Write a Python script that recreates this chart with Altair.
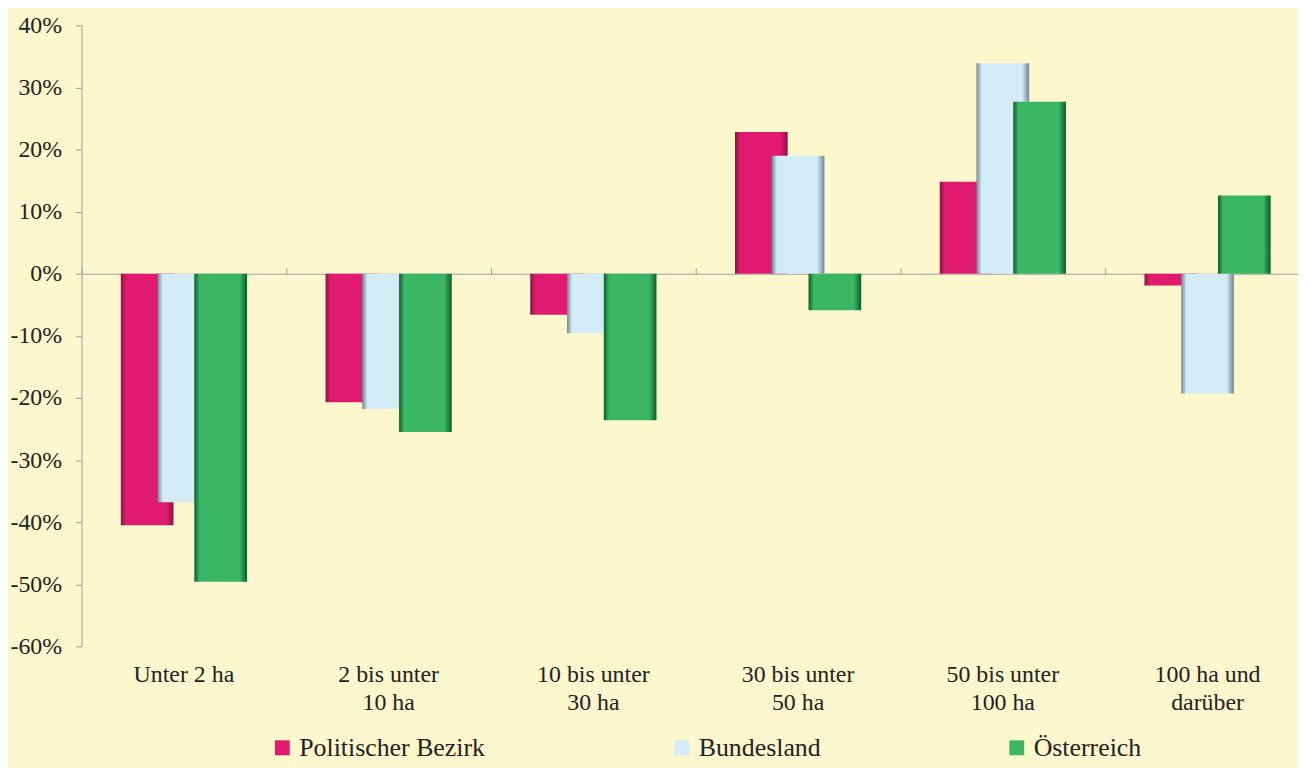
import altair as alt
import pandas as pd

categories = ["Unter 2 ha", "2 bis unter\n10 ha", "10 bis unter\n30 ha",
              "30 bis unter\n50 ha", "50 bis unter\n100 ha", "100 ha und\ndarüber"]
series = ["Politischer Bezirk", "Bundesland", "Österreich"]
bezirk = [-0.405, -0.207, -0.066, 0.228, 0.148, -0.019]
bundesland = [-0.368, -0.218, -0.096, 0.190, 0.339, -0.193]
oesterreich = [-0.496, -0.255, -0.236, -0.059, 0.277, 0.126]
colors = ["#E01B6F", "#D3ECF8", "#3BB663"]
dark = ["#8C1244", "#6F8796", "#0B5E2A"]
y_ticks = [-0.6, -0.5, -0.4, -0.3, -0.2, -0.1, 0.0, 0.1, 0.2, 0.3, 0.4]

rows = []
for s, vals in zip(series, [bezirk, bundesland, oesterreich]):
    for c, v in zip(categories, vals):
        rows.append({"category": c, "series": s, "value": v})
df = pd.DataFrame(rows)

FONT = "Liberation Serif"
GREY = "#9C9C9C"

xscale = alt.Scale(domain=categories, paddingInner=0, paddingOuter=0, range=[0, 1236])
yscale = alt.Scale(domain=[-0.6, 0.4], nice=False)

yaxis = alt.Axis(title=None, values=y_ticks, grid=False,
                 labelExpr="(datum.value < 0 ? '-' : '') + format(abs(datum.value), '.0%')",
                 domainColor=GREY, tickColor=GREY, tickSize=6, labelPadding=14,
                 labelFont=FONT, labelFontSize=24, labelColor="#222222")

label_axis = alt.Axis(title=None, labelExpr="split(datum.label, '\\n')", domain=False,
                      ticks=False, labelAngle=0, labelFont=FONT, labelFontSize=24,
                      labelColor="#222222", labelPadding=16, labelLineHeight=29)

zero_axis = alt.Axis(title=None, labels=False, domain=True, domainColor=GREY,
                     ticks=True, tickBand="extent", tickSize=6, tickColor=GREY,
                     offset=-250, grid=False)


def grad(i):
    return alt.Gradient(
        gradient="linear", x1=0, x2=1, y1=0, y2=0,
        stops=[alt.GradientStop(color=dark[i], offset=0),
               alt.GradientStop(color=colors[i], offset=0.1),
               alt.GradientStop(color=colors[i], offset=0.86),
               alt.GradientStop(color=dark[i], offset=1)])


offsets = [-37, 0, 37]
axes = [label_axis, zero_axis, None]
layers = []
for i, s in enumerate(series):
    layers.append(
        alt.Chart(df).transform_filter(alt.datum.series == s)
        .mark_bar(size=53, xOffset=offsets[i], color=grad(i))
        .encode(
            x=alt.X("category:N", sort=categories, scale=xscale, axis=axes[i]),
            y=alt.Y("value:Q", scale=yscale, axis=yaxis),
            tooltip=["category", "series", "value"],
        )
    )

legend_layer = alt.Chart(df).mark_square(opacity=0).encode(
    x=alt.X("category:N", sort=categories, scale=xscale, axis=None),
    y=alt.Y("value:Q", scale=yscale, axis=yaxis),
    color=alt.Color("series:N", sort=series,
                    scale=alt.Scale(domain=series, range=colors),
                    legend=alt.Legend(title=None, orient="none", legendX=189, legendY=714,
                                      direction="horizontal", symbolType="square",
                                      symbolSize=225, symbolOpacity=1, symbolStrokeWidth=0,
                                      labelFont=FONT, labelFontSize=26, labelColor="#222222",
                                      labelOffset=4, labelLimit=500, columnPadding=184,
                                      padding=0)),
)

chart = alt.layer(*layers, legend_layer).resolve_axis(x="independent").properties(
    width=1224, height=625,
    autosize=alt.AutoSizeParams(type="none"),
    padding={"left": 74, "top": 15, "right": 0, "bottom": 120},
).configure(background="#FDF7CE").configure_view(stroke=None)

chart.save("out.html", embed_options={"renderer": "svg", "actions": False})
